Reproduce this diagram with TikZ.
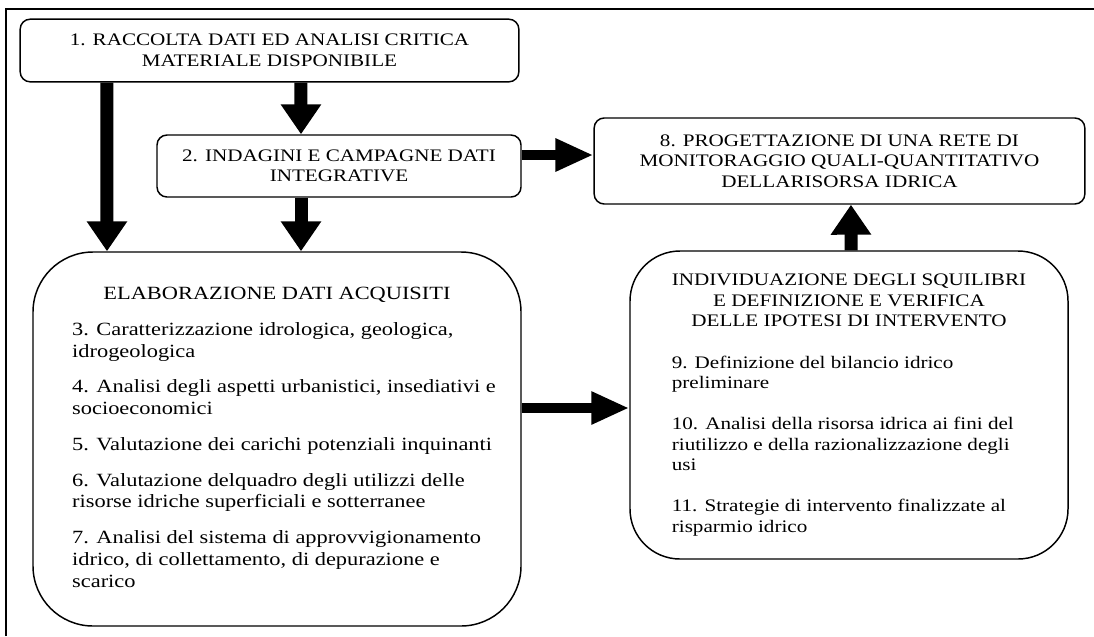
\documentclass[tikz,border=0pt]{standalone}
\usepackage{fontspec}
\setmainfont{Liberation Serif}[FakeStretch=1.2]
\usetikzlibrary{arrows.meta}
\newcommand{\titolo}[1]{\multicolumn{1}{@{}c@{}}{#1}}

\begin{document}
\begin{tikzpicture}[x=0.75pt,y=-0.75pt,
    every node/.style={font=\fontsize{13.2}{15.4}\selectfont},
    box/.style={draw,line width=1.1pt,rounded corners=7.5pt,align=center,inner sep=0pt},
    bigbox/.style={draw,line width=1.1pt,inner sep=0pt},
    fatv/.style={line width=9.75pt,-{Triangle[width=29pt,length=22.5pt]}},
    fath/.style={line width=8pt,-{Triangle[width=23pt,length=28.5pt]}}]
            \useasboundingbox (0,0) rectangle (1094,636);
            \draw[line width=1.5pt] (6,636) -- (6,9) -- (1094,9);
            \node[box, minimum width=374pt, minimum height=47pt] (racc) at (269.5,50.5) {1. RACCOLTA DATI ED ANALISI CRITICA\\ MATERIALE DISPONIBILE};
            \node[box, minimum width=273pt, minimum height=46.5pt] (integ) at (339,166) {2. INDAGINI E CAMPAGNE DATI\\ INTEGRATIVE};
            \node[box, minimum width=368pt, minimum height=64.5pt] (prog) at (839.5,161) {8. PROGETTAZIONE DI UNA RETE DI\\ MONITORAGGIO QUALI-QUANTITATIVO\\ DELLARISORSA IDRICA};
            \node[bigbox, font=\fontsize{14}{16.3}\selectfont, rounded corners=45pt, minimum width=366pt, minimum height=280.5pt] (elab) at (277,439) {\begin{tabular}{@{\hspace{10.5pt}}l@{}}
                \titolo{ELABORAZIONE DATI ACQUISITI}\\[10.5pt]
                3. Caratterizzazione idrologica, geologica,\\ idrogeologica\\[10.5pt]
                4. Analisi degli aspetti urbanistici, insediativi e\\ socioeconomici\\[10.5pt]
                5. Valutazione dei carichi potenziali inquinanti\\[10.5pt]
                6. Valutazione delquadro degli utilizzi delle\\ risorse idriche superficiali e sotterranee\\[10.5pt]
                7. Analisi del sistema di approvvigionamento\\ idrico, di collettamento, di depurazione e\\ scarico
                \end{tabular}};
            \node[bigbox, rounded corners=37.5pt, minimum width=328.5pt, minimum height=231pt] (indiv) at (849,405) {\begin{tabular}{@{}l@{}}
                \titolo{INDIVIDUAZIONE DEGLI SQUILIBRI}\\ \titolo{E DEFINIZIONE E VERIFICA}\\ \titolo{DELLE IPOTESI DI INTERVENTO}\\[15.4pt]
                9. Definizione del bilancio idrico\\ preliminare\\[15.4pt]
                10. Analisi della risorsa idrica ai fini del\\ riutilizzo e della razionalizzazione degli\\ usi\\[15.4pt]
                11. Strategie di intervento finalizzate al\\ risparmio idrico
                \end{tabular}};
            \draw[fatv] ([xshift=-121.9pt]racc.south) -- ([xshift=-127.5pt]elab.north);
            \draw[fatv] ([xshift=23.6pt]racc.south) -- ([xshift=-28.5pt]integ.north);
            \draw[fatv] ([xshift=-28.5pt]integ.south) -- ([xshift=18pt]elab.north);
            \draw[fath] ([yshift=8.25pt]integ.east) -- ([yshift=4.5pt]prog.west);
            \draw[fath] ([yshift=23.25pt]elab.east) -- ([yshift=-2.25pt]indiv.west);
            \draw[fatv] ([xshift=1.5pt]indiv.north) -- ([xshift=8.6pt]prog.south);
        \end{tikzpicture}
\end{document}
